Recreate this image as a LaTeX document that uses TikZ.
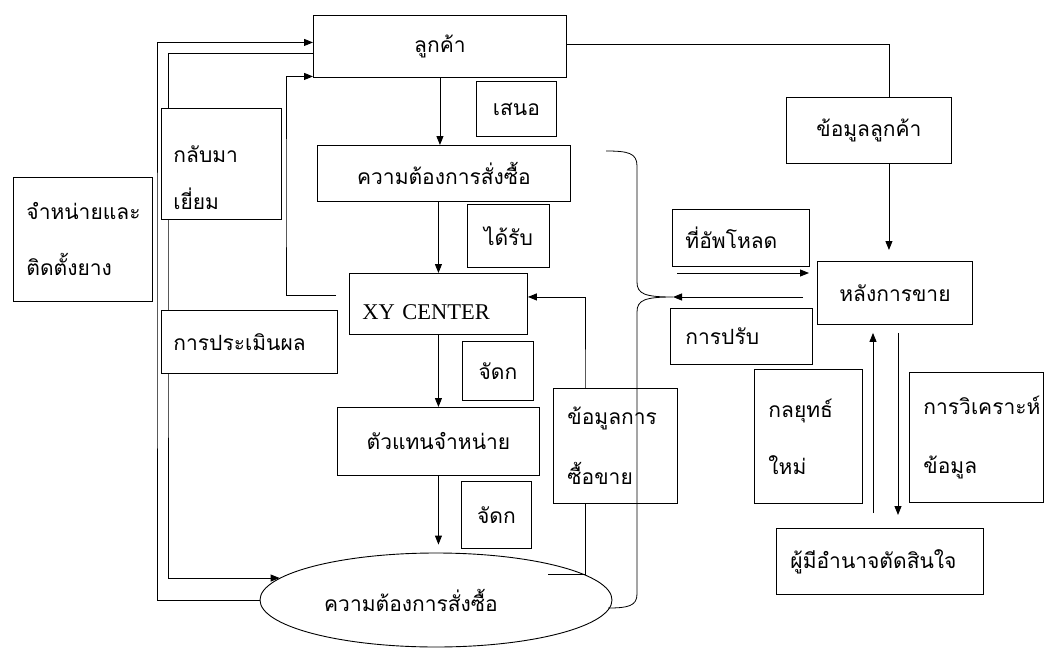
\documentclass[tikz,border=0pt]{standalone}
\usepackage{fontspec}
\newfontfamily\thai[Script=Thai]{Loma}
\newfontfamily\serifxy{Liberation Serif}
\usetikzlibrary{arrows.meta,calc,shapes.geometric}
\begin{document}
\begin{tikzpicture}[x=1pt,y=-1pt,
  line width=0.9pt,
  arr/.style={-{Triangle[length=9pt,width=7pt]}},
  box/.style={draw, fill=white, anchor=north west, inner xsep=13pt, inner ysep=0pt,
    font=\thai\fontsize{21}{24}\selectfont, align=center},
  lbox/.style={box, align=left},
  tall/.style={font=\thai\fontsize{21}{#1}\selectfont}
]
\useasboundingbox (0,0) rectangle (1045,648);

\node[ellipse, draw, minimum width=352pt, minimum height=94pt, inner sep=0pt,
  font=\thai\fontsize{21}{24}\selectfont] (ell) at (436,600) {ความต้องการสั่งซื้อ\kern50pt\relax};

\node[box, minimum width=253pt, minimum height=62pt] (cust) at (313,15) {ลูกค้า};
\node[box, minimum width=80pt, minimum height=55pt, inner xsep=4pt] (offer) at (476,81) {เสนอ};
\node[box, minimum width=253pt, minimum height=56pt] (need) at (317,145) {ความต้องการสั่งซื้อ};
\node[box, minimum width=82pt, minimum height=63pt, inner xsep=4pt] (recv) at (467,204) {ได้รับ};
\node[lbox, minimum width=178pt, minimum height=61pt, text width=152pt, text height=31pt, text depth=0pt,
  font=\serifxy\fontsize{22.5}{26}\selectfont] (xy) at (349,273) {XY CENTER};
\node[box, minimum width=165pt, minimum height=66pt] (custinfo) at (786,97) {ข้อมูลลูกค้า};
\node[lbox, minimum width=137pt, minimum height=57pt, text width=111pt] (upload) at (672,209) {ที่อัพโหลด};
\node[box, minimum width=155pt, minimum height=63pt] (hlang) at (817,261) {หลังการขาย};
\node[lbox, minimum width=142pt, minimum height=56pt, text width=112pt, inner xsep=15pt] (adjust) at (670,308) {การปรับ};
\node[lbox, tall=57, minimum width=108pt, minimum height=134pt, text width=80pt, inner xsep=14pt] (strat) at (754,369) {กลยุทธ์\\ใหม่};
\node[lbox, tall=59, minimum width=134pt, minimum height=130pt, text width=106pt, inner xsep=14pt] (analyze) at (909,372) {การวิเคราะห์\\ข้อมูล};
\node[lbox, minimum width=207pt, minimum height=66pt, text width=179pt, inner xsep=14pt] (dec) at (776,528) {ผู้มีอำนาจตัดสินใจ};
\node[lbox, tall=56, minimum width=139pt, minimum height=124pt, text width=113pt] (dist) at (13,177) {จำหน่ายและ\\ติดตั้งยาง};

% connectors on the left (pass behind boxes)
\draw[arr] (ell.west) -| (157,300) |- ($(cust.west)+(0,-4)$);
\draw[arr] ($(cust.west)+(0,7)$) -| (168,300) |- (ell.172);
\draw[arr, shorten <=13pt] ($(xy.west)+(0,-9)$) -| (286,200) |- ($(cust.west)+(0,30)$);
\draw[arr] ($(ell.center)+(112,-26)$) -| (585,400) |- ($(xy.east)+(0,-7)$);

\node[lbox, tall=47, minimum width=120pt, minimum height=111pt, text width=96pt, inner xsep=12pt] (revisit) at (161,108) {\rule{0pt}{44pt}กลับมา\\เยี่ยม};
\node[lbox, minimum width=176pt, minimum height=63pt, text width=152pt, inner xsep=12pt] (eval) at (161,310) {การประเมินผล};
\node[box, minimum width=71pt, minimum height=59pt, inner xsep=4pt] (alloc1) at (462,341) {จัดก};
\node[box, minimum width=202pt, minimum height=68pt] (agent) at (337,407) {ตัวแทนจำหน่าย};
\node[box, minimum width=70pt, minimum height=67pt, inner xsep=4pt] (alloc2) at (461,481) {จัดก};
\node[lbox, tall=60, minimum width=124pt, minimum height=115pt, text width=96pt, inner xsep=14pt] (sales) at (553,388) {ข้อมูลการ\\ซื้อขาย};

% central vertical flow
\draw[arr] (cust.south) -- (cust.south |- need.north);
\draw[arr] (xy.north |- need.south) -- (xy.north);
\draw[arr] (agent.north |- xy.south) -- (agent.north);
\draw[arr, shorten >=8pt] (agent.south) -- (agent.south |- ell.north);

% brace
\coordinate (btip) at (673,297);
\draw[line width=0.8pt] (606,151) .. controls (628,151) and (637,153) .. (637,166)
  -- (637,282) .. controls (637,294) and (645,297) .. (btip)
  .. controls (645,297) and (637,300) .. (637,312)
  -- (637,594) .. controls (637,606) and (628,608) .. (608,608);

% right side
\draw ($(cust.east)+(0,-2)$) -| ($(custinfo.north)+(20,0)$);
\coordinate (cx) at ($(custinfo.south)+(20,0)$);
\draw[arr, shorten >=11pt] (cx) -- (cx |- hlang.north);
\draw[arr, shorten <=14pt] (hlang.west |- btip) -- (btip);
\coordinate (upfrom) at (677,273);
\draw[arr, shorten >=8pt] (upfrom) -- (upfrom -| hlang.west);
\coordinate (ux) at (873,0);
\coordinate (dx) at (898,0);
\draw[arr, shorten <=15pt, shorten >=8pt] (ux |- dec.north) -- (ux |- hlang.south);
\draw[arr, shorten <=8pt, shorten >=13pt] (dx |- hlang.south) -- (dx |- dec.north);
\end{tikzpicture}
\end{document}
